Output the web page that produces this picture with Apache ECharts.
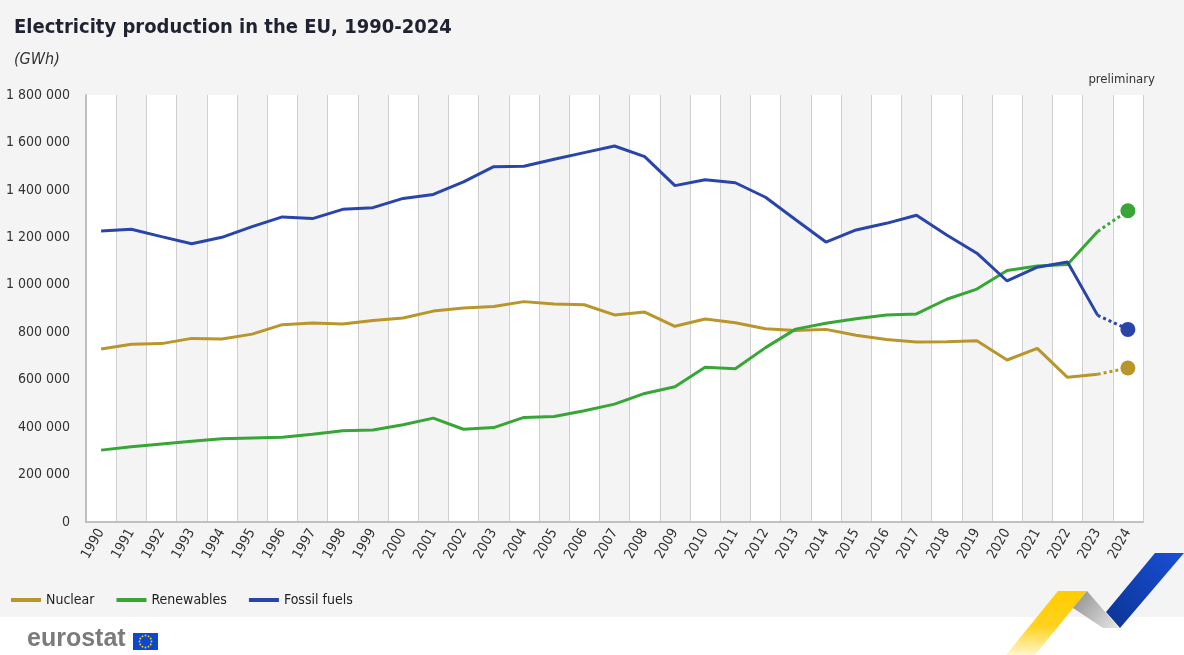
<!DOCTYPE html>
<html>
<head>
<meta charset="utf-8">
<script src="https://cdn.jsdelivr.net/npm/echarts@6/dist/echarts.min.js"></script>
<style>
  html, body { margin: 0; padding: 0; background: #f4f4f4; }
  #chart { width: 1184px; height: 655px; }
</style>
</head>
<body>
<div id="chart"></div>
<script>
const years = ['1990', '1991', '1992', '1993', '1994', '1995', '1996', '1997', '1998', '1999',
  '2000', '2001', '2002', '2003', '2004', '2005', '2006', '2007', '2008', '2009',
  '2010', '2011', '2012', '2013', '2014', '2015', '2016', '2017', '2018', '2019',
  '2020', '2021', '2022', '2023', '2024'];

const nuclear = [729000, 749000, 752000, 774000, 771000, 792000, 832000, 839000, 835000, 849000,
  860000, 889000, 902000, 908000, 929000, 919000, 916000, 873000, 885000, 825000,
  856000, 840000, 815000, 807000, 812000, 787000, 769000, 759000, 760000, 764000,
  683000, 732000, 610000, 623000, 649000];

const renewables = [303000, 317000, 329000, 340000, 351000, 354000, 357000, 370000, 385000, 388000,
  410000, 438000, 391000, 398000, 441000, 445000, 469000, 497000, 542000, 570000,
  652000, 646000, 735000, 813000, 838000, 857000, 873000, 877000, 939000, 982000,
  1060000, 1079000, 1085000, 1225000, 1312000];

const fossil = [1227000, 1234000, 1203000, 1173000, 1200000, 1245000, 1286000, 1279000, 1318000, 1325000,
  1364000, 1381000, 1434000, 1498000, 1500000, 1529000, 1557000, 1585000, 1540000, 1418000,
  1443000, 1430000, 1369000, 1274000, 1180000, 1231000, 1259000, 1293000, 1210000, 1133000,
  1016000, 1074000, 1096000, 871000, 812000];

const names = ['Nuclear', 'Renewables', 'Fossil fuels'];
const colors = ['#b8962c', '#37a636', '#2a45a9'];
const yTicks = [0, 200000, 400000, 600000, 800000, 1000000, 1200000, 1400000, 1600000, 1800000];

const font = "'DejaVu Sans Condensed', 'Liberation Sans', sans-serif";
const last = years.length - 1;

// solid line up to 2023, dotted preliminary segment 2023-2024
function solidPart(arr) {
  return arr.map((v, i) => (i < last ? v : null));
}
function prelimPart(arr) {
  return arr.map((v, i) => {
    if (i < last - 1) return null;
    if (i === last) return { value: v, symbol: 'circle', symbolSize: 15 };
    return { value: v, symbol: 'none' };
  });
}

const chart = echarts.init(document.getElementById('chart'));

const seriesList = [];
[nuclear, renewables, fossil].forEach((arr, k) => {
  seriesList.push({
    name: names[k],
    type: 'line',
    data: solidPart(arr),
    showSymbol: false,
    symbol: 'none',
    lineStyle: { width: 3, color: colors[k] },
    itemStyle: { color: colors[k] },
    z: 3
  });
  seriesList.push({
    name: names[k] + ' (preliminary)',
    type: 'line',
    data: prelimPart(arr),
    showSymbol: true,
    lineStyle: { width: 3, color: colors[k], type: [3, 3] },
    itemStyle: { color: colors[k] },
    z: 3
  });
});

// EU flag stars
const stars = [];
for (let i = 0; i < 12; i++) {
  const a = i / 12 * Math.PI * 2;
  stars.push({
    type: 'circle',
    shape: { cx: 145.5 + Math.cos(a) * 6, cy: 641.5 + Math.sin(a) * 6, r: 0.9 },
    style: { fill: '#ffdd00' }
  });
}

const option = {
  animation: false,
  backgroundColor: '#f4f4f4',
  title: {
    text: 'Electricity production in the EU, 1990-2024',
    subtext: '(GWh)',
    left: 9,
    top: 13,
    itemGap: 14,
    textStyle: { fontFamily: font, fontWeight: 'bold', fontSize: 20, color: '#1f2230' },
    subtextStyle: { fontFamily: font, fontStyle: 'italic', fontSize: 16, color: '#333' }
  },
  legend: {
    data: names,
    left: 6,
    top: 588,
    icon: 'rect',
    itemWidth: 30,
    itemHeight: 4,
    itemGap: 22,
    textStyle: { fontFamily: font, fontSize: 14, color: '#222' }
  },
  grid: { left: 86, right: 41, top: 95, bottom: 133, outerBoundsMode: 'none', containLabel: false },
  xAxis: {
    type: 'category',
    data: years,
    boundaryGap: true,
    axisLine: { lineStyle: { color: '#c0c0c0', width: 2 } },
    axisTick: { show: false },
    axisLabel: { rotate: 60, margin: 8, fontFamily: font, fontSize: 14, color: '#333', interval: 0 },
    splitLine: { show: true, lineStyle: { color: '#cfcfcf', width: 1 } },
    splitArea: { show: true, areaStyle: { color: ['#ffffff', '#f4f4f4'] } }
  },
  yAxis: {
    type: 'value',
    min: yTicks[0],
    max: yTicks[yTicks.length - 1],
    interval: yTicks[1] - yTicks[0],
    axisLine: { show: true, lineStyle: { color: '#c0c0c0', width: 2 } },
    axisTick: { show: false },
    axisLabel: {
      margin: 16,
      fontFamily: font,
      fontSize: 14,
      color: '#333',
      formatter: v => String(v).replace(/\B(?=(\d{3})+(?!\d))/g, ' ')
    },
    splitLine: { show: true, lineStyle: { color: '#d8d8d8', type: [5, 4] } }
  },
  graphic: [
    {
      type: 'text', right: 29, top: 73,
      style: { text: 'preliminary', font: '13px ' + font, fill: '#333' }
    },
    {
      type: 'rect', left: 0, top: 617, z: -1,
      shape: { width: 1184, height: 38 },
      style: { fill: '#ffffff' }
    },
    {
      type: 'text', left: 27, top: 627,
      style: { text: 'eurostat', font: 'bold 25px Liberation Sans, sans-serif', fill: '#7b7b7b' }
    },
    {
      type: 'rect', left: 133, top: 633,
      shape: { width: 25, height: 17 },
      style: { fill: '#0e47cb' }
    },
    ...stars,
    {
      type: 'polygon',
      shape: { points: [[1058, 591], [1087, 591], [1035, 655], [1006, 655]] },
      style: {
        fill: new echarts.graphic.LinearGradient(0, 0, 0, 1, [
          { offset: 0, color: '#ffcc00' },
          { offset: 0.55, color: '#ffd21f' },
          { offset: 1, color: '#fff6cc' }
        ])
      }
    },
    {
      type: 'polygon',
      shape: { points: [[1087, 591], [1119, 628], [1103, 628], [1073, 608]] },
      style: {
        fill: new echarts.graphic.LinearGradient(0, 0, 1, 1, [
          { offset: 0, color: '#8d8d8d' },
          { offset: 1, color: '#e6e6e6' }
        ])
      }
    },
    {
      type: 'polygon',
      shape: { points: [[1155, 553], [1184, 553], [1120, 628], [1106, 612]] },
      style: {
        fill: new echarts.graphic.LinearGradient(1, 0, 0, 1, [
          { offset: 0, color: '#1a4fd6' },
          { offset: 1, color: '#0b3494' }
        ])
      }
    }
  ],
  series: seriesList
};

chart.setOption(option);
</script>
</body>
</html>
